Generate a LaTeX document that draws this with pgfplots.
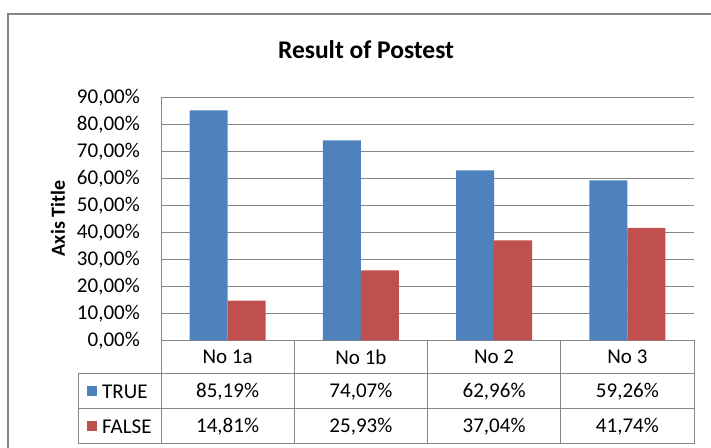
\documentclass[border=0pt]{standalone}
\usepackage{pgfplots}
\pgfplotsset{compat=1.18}
\usepackage{fontspec}
\setmainfont{Carlito}
\definecolor{xlblue}{HTML}{4F81BD}
\definecolor{xlred}{HTML}{C0504D}
\definecolor{xlgrid}{HTML}{868686}
\newcommand{\tfont}{\fontsize{21bp}{25bp}\selectfont}
\begin{document}
\begin{tikzpicture}[x=1bp,y=1bp]
\useasboundingbox (0,0) rectangle (711,448);
\draw[xlgrid, line width=1.3bp] (8,-5) -- (8,434) -- (716,434);
\begin{axis}[
  at={(161bp,107.5bp)}, anchor=south west,
  scale only axis, width=533bp, height=243bp,
  ymin=0, ymax=90, ytick={0,10,20,30,40,50,60,70,80,90},
  xmin=0.5, xmax=4.5, xtick=\empty,
  ybar=0pt, bar width=38bp,
  ymajorgrids, grid style={xlgrid, line width=1bp},
  axis x line=bottom, axis y line=left,
  axis line style={xlgrid, -, line width=1bp},
  major tick length=0pt,
  /pgf/number format/.cd, fixed, fixed zerofill, precision=2, use comma, assume math mode=true,
  /pgfplots/.cd,
  yticklabel={\pgfmathprintnumber{\tick}\%},
  yticklabel style={font=\tfont, anchor=east, inner sep=0pt, xshift=-21bp},
]
\addplot[fill=xlblue, draw=none] coordinates {(1,85.19) (2,74.07) (3,62.96) (4,59.26)};
\addplot[fill=xlred, draw=none] coordinates {(1,14.81) (2,25.93) (3,37.04) (4,41.74)};
\end{axis}
% data table
\begin{scope}[xlgrid, line width=1bp]
\draw (78,74) -- (694,74);
\draw (78,39) -- (694,39);
\draw (78,4) -- (694,4);
\draw (78,74) -- (78,4);
\foreach \x in {161,294.25,427.5,560.75,694} \draw (\x,107.5) -- (\x,4);
\end{scope}
\node[font=\tfont] at (227.6,90.75) {No 1a};
\node[font=\tfont] at (360.9,90.75) {No 1b};
\node[font=\tfont] at (494.1,90.75) {No 2};
\node[font=\tfont] at (627.4,90.75) {No 3};
\node[font=\tfont] at (227.6,56.5) {85,19\%};
\node[font=\tfont] at (360.9,56.5) {74,07\%};
\node[font=\tfont] at (494.1,56.5) {62,96\%};
\node[font=\tfont] at (627.4,56.5) {59,26\%};
\node[font=\tfont] at (227.6,21.5) {14,81\%};
\node[font=\tfont] at (360.9,21.5) {25,93\%};
\node[font=\tfont] at (494.1,21.5) {37,04\%};
\node[font=\tfont] at (627.4,21.5) {41,74\%};
\fill[xlblue] (87,51.5) rectangle (97,61.5);
\fill[xlred] (87,16.5) rectangle (97,26.5);
\node[font=\tfont, anchor=west, inner sep=0pt] at (102,56.5) {TRUE};
\node[font=\tfont, anchor=west, inner sep=0pt] at (102,21.5) {FALSE};
\node[font=\fontsize{25.5bp}{30bp}\selectfont\bfseries] at (366,398) {Result of Postest};
\node[font=\fontsize{20bp}{24bp}\selectfont\bfseries, rotate=90] at (58,229.5) {Axis Title};
\end{tikzpicture}
\end{document}
